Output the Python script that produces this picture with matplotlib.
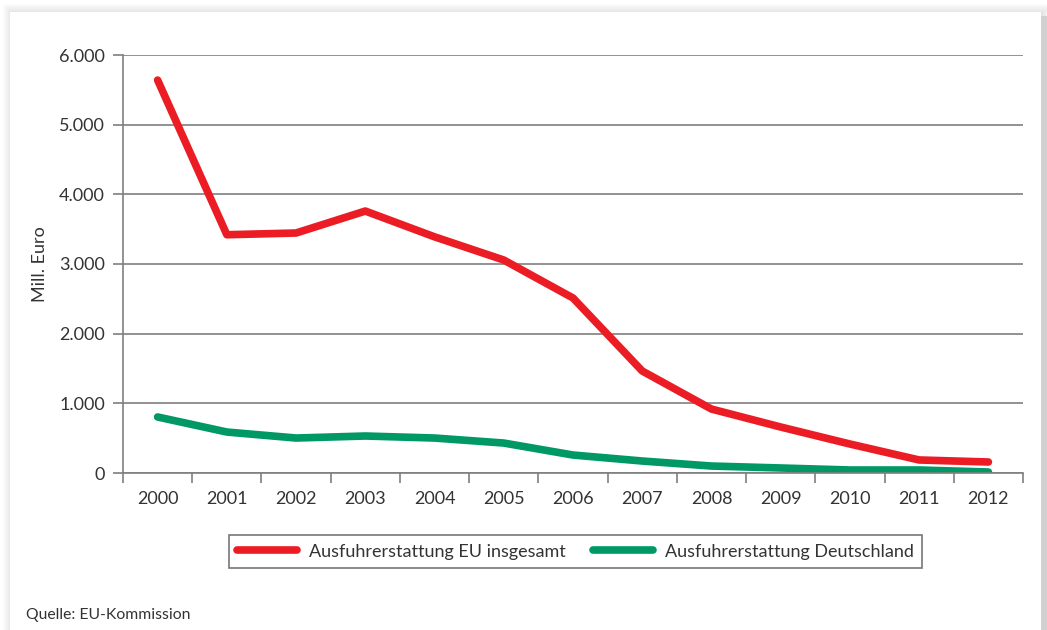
import numpy as np
from matplotlib import pyplot as plt
from matplotlib.patches import Rectangle

years = ['2000', '2001', '2002', '2003', '2004', '2005', '2006',
         '2007', '2008', '2009', '2010', '2011', '2012']
eu_total = [5640, 3420, 3445, 3760, 3390, 3057, 2512, 1464, 918, 660, 416, 187, 158]
de_total = [804, 588, 502, 531, 502, 430, 258, 172, 100, 72, 43, 43, 14]
y_ticks = [0, 1000, 2000, 3000, 4000, 5000, 6000]
y_labels = ['0', '1.000', '2.000', '3.000', '4.000', '5.000', '6.000']

plt.rcParams['font.family'] = ['Lato', 'DejaVu Sans']
txt = '#333333'
grid = '#7f7f7f'

W, H = 1047, 630
fig = plt.figure(figsize=(W / 100, H / 100), dpi=100)
fig.patch.set_facecolor('white')

# panel with soft shadow
px0, py0, px1, py1 = 10, 0, 1041, 618
for i in range(10, 0, -1):
    fig.patches.append(Rectangle(((px0 - i + 3) / W, 0), (px1 - px0 + 2 * i - 3) / W,
                                 (py1 + i - 2) / H, transform=fig.transFigure,
                                 facecolor='black', alpha=0.012, edgecolor='none', zorder=0))
fig.patches.append(Rectangle((px1 / W, 0), 6 / W, (py1 - 4) / H, transform=fig.transFigure,
                             facecolor='#d0d0d0', edgecolor='none', zorder=0.5))
fig.patches.append(Rectangle((px0 / W, 0), (px1 - px0) / W, py1 / H, transform=fig.transFigure,
                             facecolor='white', edgecolor='none', zorder=1))

ax = fig.add_axes([123 / W, 1 - 473 / H, 900 / W, 418 / H])
ax.set_facecolor('none')
ax.set_zorder(2)

x = np.arange(len(years))
ax.plot(x, eu_total, color='#ec1c24', lw=5.5, solid_capstyle='round',
        solid_joinstyle='round', label='Ausfuhrerstattung EU insgesamt')
ax.plot(x, de_total, color='#009966', lw=5.5, solid_capstyle='round',
        solid_joinstyle='round', label='Ausfuhrerstattung Deutschland')

ax.set_xlim(-0.5, len(years) - 0.5)
ax.set_ylim(0, 6000)
ax.set_yticks(y_ticks)
ax.set_yticklabels(y_labels)
ax.set_xticks(x)
ax.set_xticklabels(years)
ax.set_xticks(np.arange(-0.5, len(years)), minor=True)
ax.tick_params(axis='x', which='major', length=0, pad=13, labelsize=13, labelcolor=txt)
ax.tick_params(axis='x', which='minor', length=7, width=1.2, color=grid, direction='out')
ax.tick_params(axis='y', length=7, width=1.2, color=grid, pad=6, labelsize=13, labelcolor=txt)
ax.yaxis.grid(True, color=grid, lw=1.2)
ax.set_axisbelow(True)
for s in ['top', 'right']:
    ax.spines[s].set_visible(False)
for s in ['left', 'bottom']:
    ax.spines[s].set_color(grid)
    ax.spines[s].set_linewidth(1.2)

ax.set_ylabel('Mill. Euro', fontsize=13, color=txt, labelpad=8)

leg = ax.legend(loc='center', bbox_to_anchor=(575.5 / W, 1 - 551.5 / H),
                bbox_transform=fig.transFigure, ncol=2, frameon=True, fancybox=False,
                fontsize=13, handlelength=3.3, columnspacing=1.5, borderpad=0.45,
                handletextpad=0.7)
leg.get_frame().set_edgecolor('#555555')
leg.get_frame().set_linewidth(1.2)
for t in leg.get_texts():
    t.set_color(txt)

fig.text(26 / W, 1 - 615 / H, 'Quelle: EU-Kommission', fontsize=11.3, color=txt,
         va='center', ha='left', zorder=3)

fig.savefig('out.png', dpi=100)
